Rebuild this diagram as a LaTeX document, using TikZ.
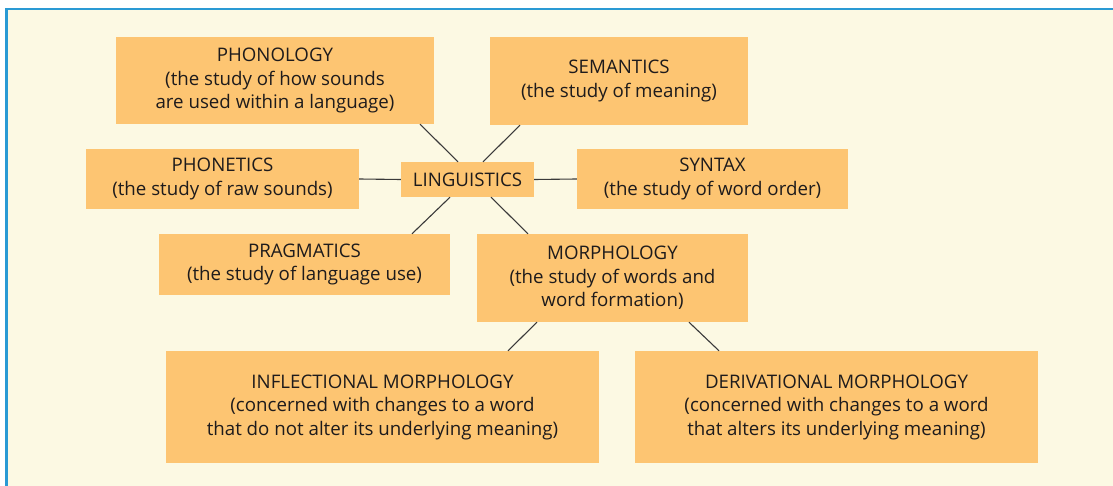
\documentclass[tikz,border=0pt]{standalone}
\usepackage{fontspec}
\setmainfont{Open Sans}
\usetikzlibrary{positioning, calc}
\definecolor{panelbg}{HTML}{FCF9E3}
\definecolor{panelrule}{HTML}{2A9AD4}
\definecolor{boxfill}{HTML}{FDC572}
\definecolor{inktext}{HTML}{1E1B1C}
\definecolor{linkgray}{HTML}{3A3A3A}

\begin{document}
\begin{tikzpicture}[
    x=1pt, y=-1pt,
    box/.style={fill=boxfill, inner sep=0pt, align=center, text=inktext,
        font=\fontsize{18.7}{23.5}\selectfont},
    link/.style={draw=linkgray, line width=1.1pt}
]
    \useasboundingbox (0,0) rectangle (1113,486);
    \clip (0,0) rectangle (1113,486);
    \draw[fill=panelbg, draw=panelrule, line width=2.4pt] (6.5,9) rectangle (1130,500);

    \node[box, minimum width=318, minimum height=87] (phonology) at (275,80.5) {PHONOLOGY\\(the study of how sounds\\are used within a language)};
    \node[box, minimum width=258, minimum height=88] (semantics) at (619,81) {SEMANTICS\\(the study of meaning)};
    \node[box, minimum width=273, minimum height=60] (phonetics) at (222.5,179) {PHONETICS\\(the study of raw sounds)};
    \node[box, minimum width=133, minimum height=35] (ling) at (467.5,179.5) {LINGUISTICS};
    \node[box, minimum width=271, minimum height=60] (syntax) at (712.5,179) {SYNTAX\\(the study of word order)};
    \node[box, minimum width=291, minimum height=61] (pragmatics) at (304.5,264.5) {PRAGMATICS\\(the study of language use)};
    \node[box, minimum width=271, minimum height=88] (morphology) at (612.5,278) {MORPHOLOGY\\(the study of words and\\word formation)};
    \node[box, minimum width=433, minimum height=112] (infl) at (382.5,407) {INFLECTIONAL MORPHOLOGY\\(concerned with changes to a word\\that do not alter its underlying meaning)};
    \node[box, minimum width=403, minimum height=112] (deriv) at (836.5,407) {DERIVATIONAL MORPHOLOGY\\(concerned with changes to a word\\that alters its underlying meaning)};

    \draw[link] ([xshift=145]phonology.south) -- ([xshift=-9.5]ling.north);
    \draw[link] ([xshift=-99]semantics.south) -- ([xshift=15.5]ling.north);
    \draw[link] (phonetics.east) -- (ling.west);
    \draw[link] (ling.east) -- (syntax.west);
    \draw[link] ([xshift=-17.5]ling.south) -- ([xshift=107.5]pragmatics.north);
    \draw[link] ([xshift=23.5]ling.south) -- ([xshift=-84.5]morphology.north);
    \draw[link] ([xshift=-75.5]morphology.south) -- ([xshift=125.5]infl.north);
    \draw[link] ([xshift=76.5]morphology.south) -- ([xshift=-117.5]deriv.north);
\end{tikzpicture}
\end{document}
